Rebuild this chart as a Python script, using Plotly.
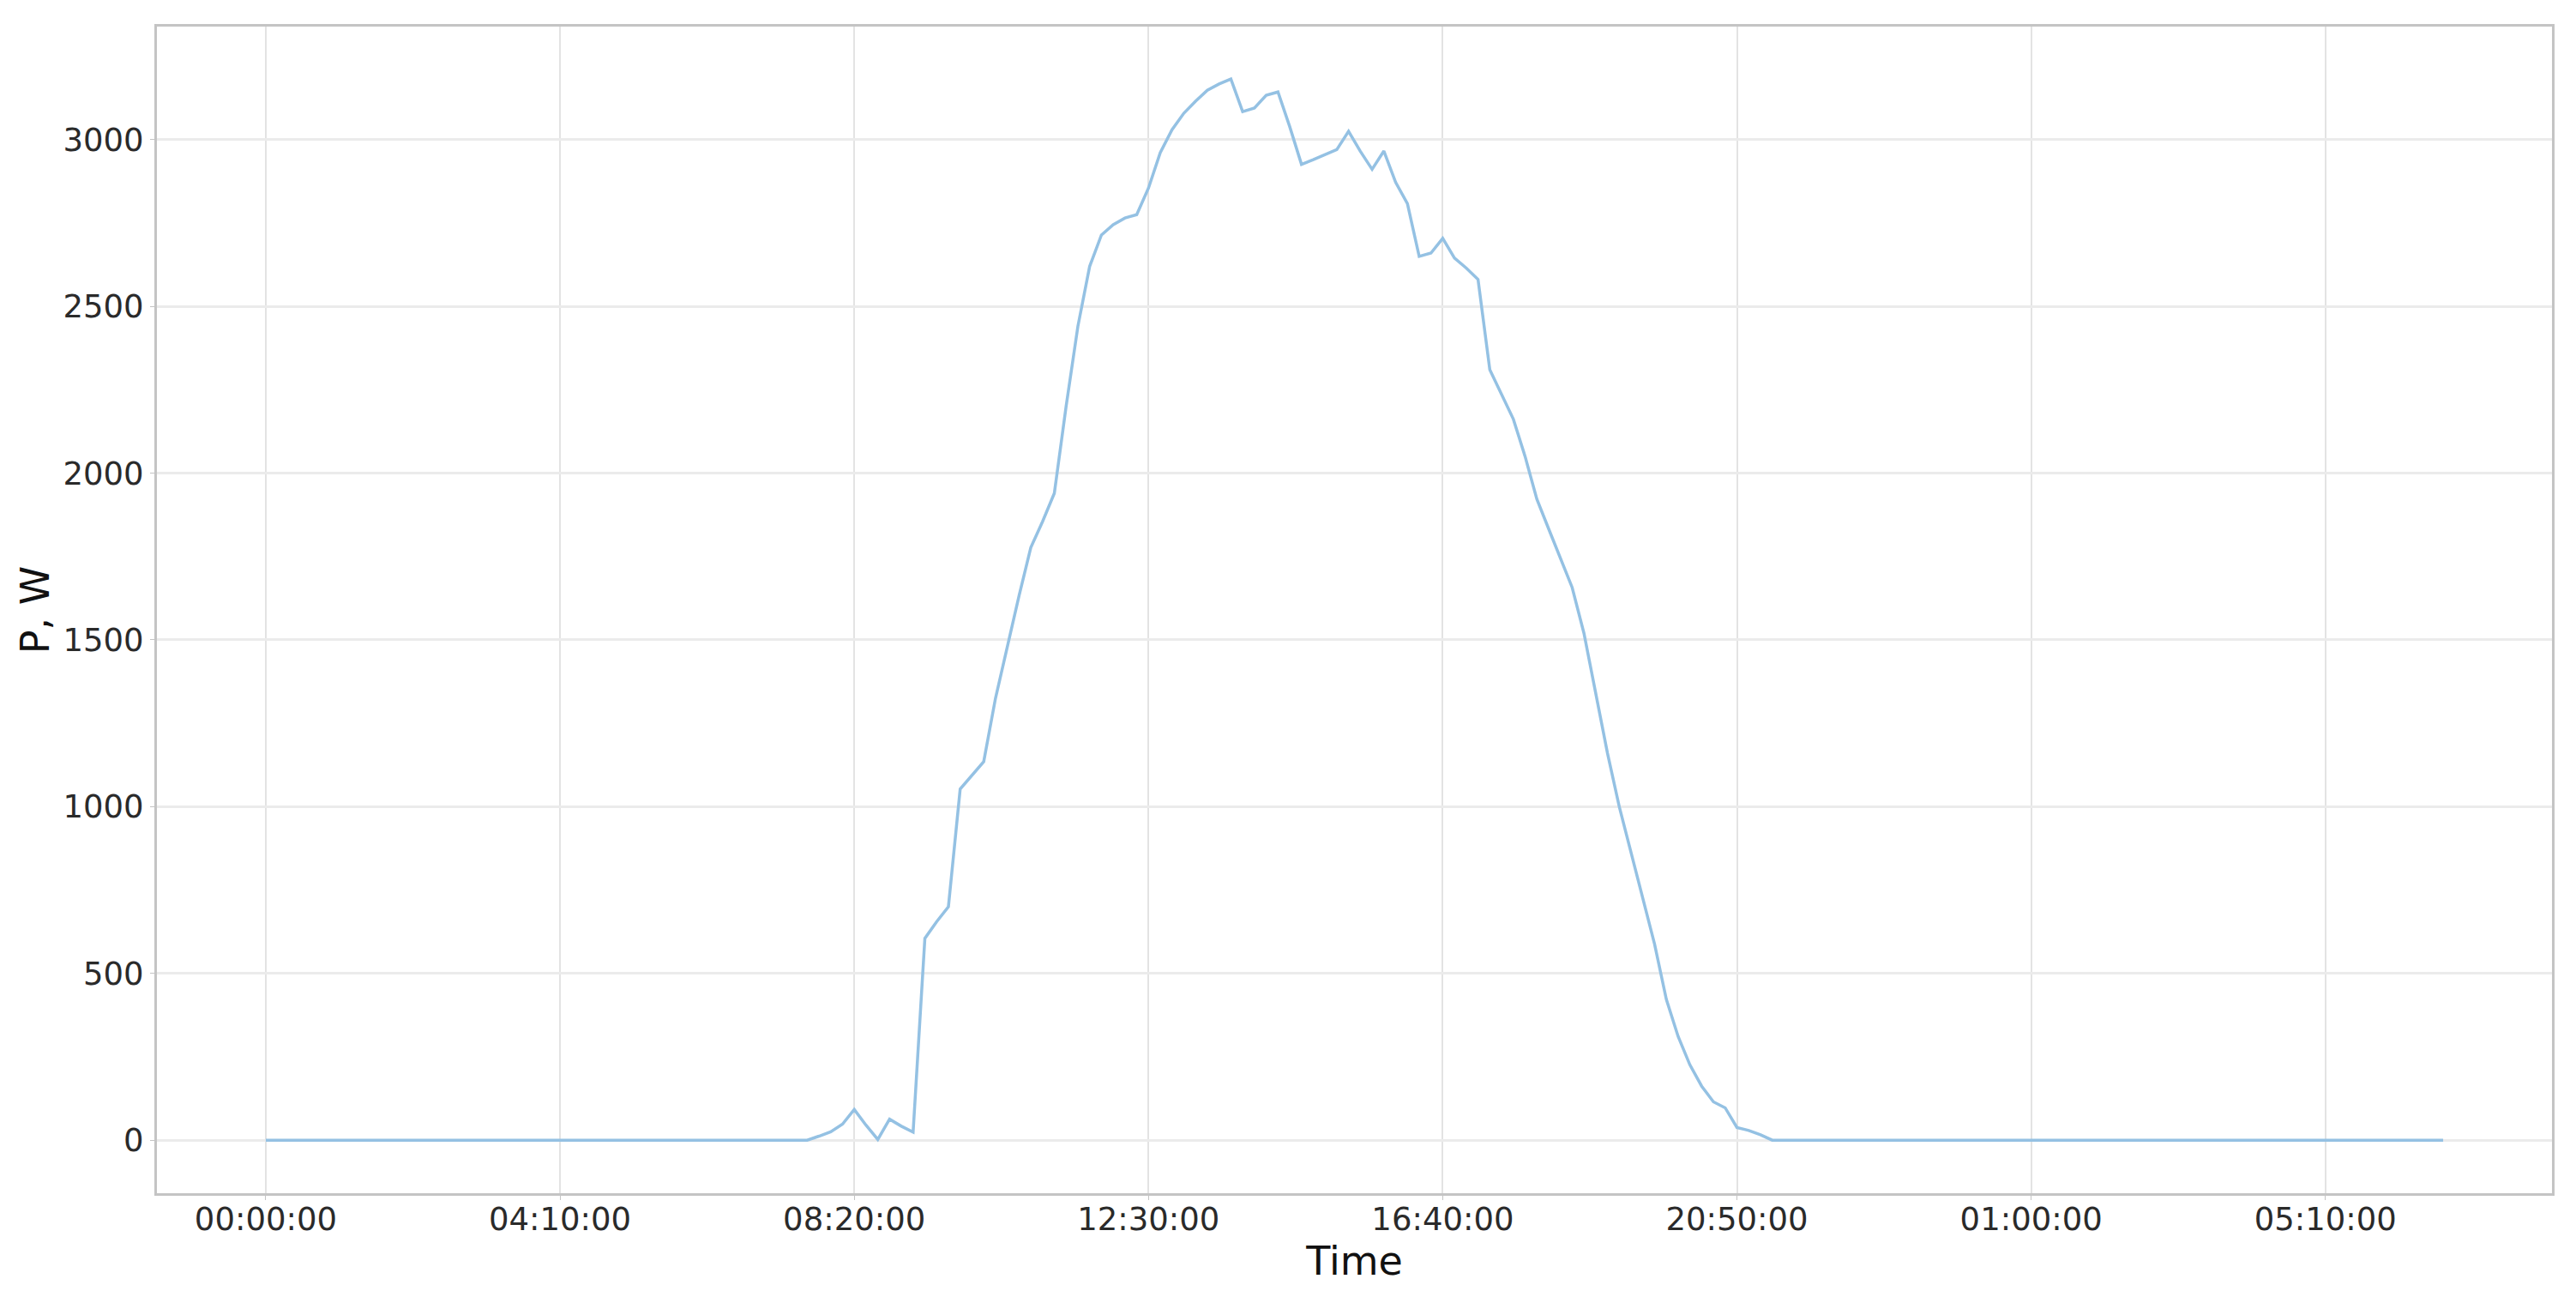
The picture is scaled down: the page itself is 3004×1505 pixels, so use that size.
"""
    pv_power_day.py
"""
import pandas as pd
import plotly.graph_objs as go

# 10-minute samples, 00:00:00 through 06:50:00 of the next day
start_time = "2021-06-01 00:00:00"
step = "10min"

# P, W, one value per sample
power_night_am = [
    0, 0, 0, 0, 0, 0, 0, 0, 0, 0,
    0, 0, 0, 0, 0, 0, 0, 0, 0, 0,
    0, 0, 0, 0, 0, 0, 0, 0, 0, 0,
    0, 0, 0, 0, 0, 0, 0, 0, 0, 0,
    0, 0, 0, 0, 0, 0, 0,
]
power_day = [
    12, 25, 48, 92, 45, 2, 63, 42, 24, 605,
    655, 700, 1053, 1095, 1135, 1325, 1480, 1632, 1777, 1855,
    1940, 2200, 2440, 2620, 2714, 2745, 2765, 2775, 2855, 2961,
    3030, 3079, 3115, 3148, 3167, 3182, 3084, 3095, 3133, 3143,
    3039, 2926, 2940, 2955, 2970, 3025, 2965, 2911, 2966, 2872,
    2808, 2650, 2660, 2704, 2645, 2615, 2581, 2310, 2235, 2162,
    2050, 1922, 1833, 1745, 1657, 1520, 1343, 1160, 1000, 860,
    726, 588, 422, 311, 226, 162, 115, 97, 38, 29,
    16,
]
power_night_pm = [
    0, 0, 0, 0, 0, 0, 0, 0, 0, 0,
    0, 0, 0, 0, 0, 0, 0, 0, 0, 0,
    0, 0, 0, 0, 0, 0, 0, 0, 0, 0,
    0, 0, 0, 0, 0, 0, 0, 0, 0, 0,
    0, 0, 0, 0, 0, 0, 0, 0, 0, 0,
    0, 0, 0, 0, 0, 0, 0, 0,
]

power = power_night_am + power_day + power_night_pm
times = pd.date_range(start_time, periods=len(power), freq=step)

AXIS_FONT = "DejaVu Sans"


def get_layout(times) -> dict:
    """Get plotly layout for the power curve."""

    # the page body adds 8px around the figure, so size it to fit the window
    pad = (times[-1] - times[0]) * 0.05
    layout = {
        "width": 2996,
        "height": 1497,
        "margin": {"l": 175, "r": 28, "t": 23, "b": 114},
        "paper_bgcolor": "white",
        "plot_bgcolor": "white",
        "showlegend": False,
        "font": {"family": AXIS_FONT, "size": 37, "color": "#2a2a2a"},
        "xaxis": {
            "type": "date",
            "range": [times[0] - pad, times[-1] + pad],
            "tick0": times[0],
            "dtick": 250 * 60 * 1000,
            "tickformat": "%H:%M:%S",
            "title": {
                "text": "Time",
                "font": {"size": 46, "color": "#111111"},
                "standoff": 0,
            },
            "showgrid": True,
            "gridcolor": "#e3e3e3",
            "gridwidth": 2,
            "showline": True,
            "mirror": True,
            "linecolor": "#c4c4c4",
            "linewidth": 3,
            "ticks": "outside",
            "ticklen": 5,
            "tickcolor": "#c4c4c4",
            "ticklabelstandoff": -9,
            "zeroline": False,
        },
        "yaxis": {
            "range": [-159, 3339],
            "dtick": 500,
            "title": {
                "text": "P, W",
                "font": {"size": 46, "color": "#111111"},
                "standoff": 2,
            },
            "showgrid": True,
            "gridcolor": "#ebebeb",
            "gridwidth": 3,
            "showline": True,
            "mirror": True,
            "linecolor": "#c4c4c4",
            "linewidth": 3,
            "ticks": "outside",
            "ticklen": 5,
            "tickcolor": "#c4c4c4",
            "zeroline": False,
        },
    }
    return layout


fig = go.Figure()
fig.add_trace(
    go.Scatter(
        x=times,
        y=power,
        mode="lines",
        line={"color": "#94c1e3", "width": 3.5},
        name="P",
    )
)
fig.update_layout(get_layout(times))
fig.write_html("out.html")
